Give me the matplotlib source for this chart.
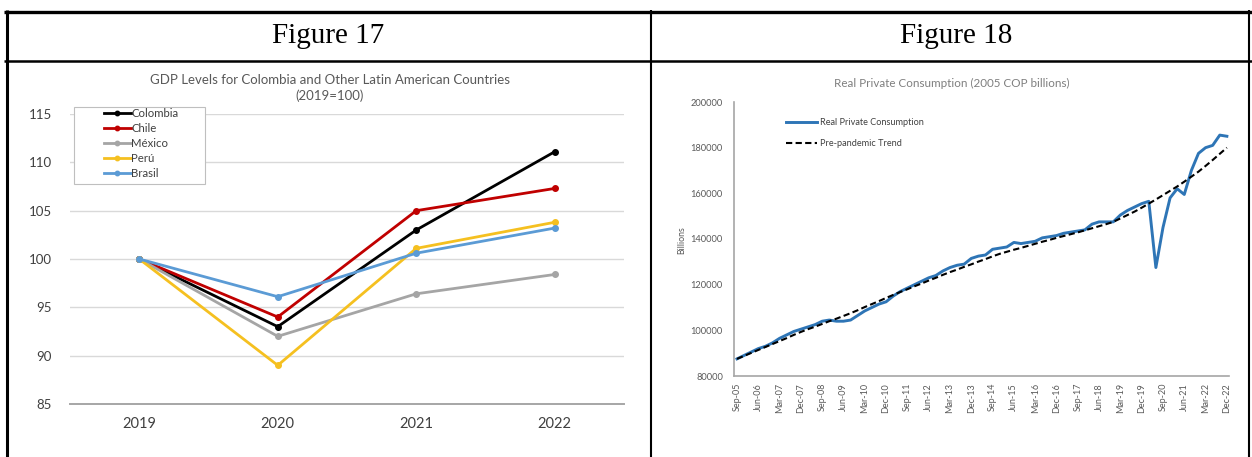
import matplotlib
matplotlib.use("Agg")
import matplotlib.pyplot as plt
from matplotlib.lines import Line2D
from matplotlib.patches import Rectangle
import numpy as np

# ---------------- data ----------------
years = ["2019", "2020", "2021", "2022"]
colombia = [100, 93.0, 103.0, 111.1]
chile = [100, 94.0, 105.0, 107.3]
mexico = [100, 92.0, 96.4, 98.4]
peru = [100, 89.0, 101.1, 103.8]
brasil = [100, 96.1, 100.6, 103.2]

quarter_labels = ["Sep-05", "Jun-06", "Mar-07", "Dec-07", "Sep-08", "Jun-09",
                  "Mar-10", "Dec-10", "Sep-11", "Jun-12", "Mar-13", "Dec-13",
                  "Sep-14", "Jun-15", "Mar-16", "Dec-16", "Sep-17", "Jun-18",
                  "Mar-19", "Dec-19", "Sep-20", "Jun-21", "Mar-22", "Dec-22"]

# quarterly real private consumption, Sep-05 .. Dec-22
consumption = [87500, 89000, 90500, 92000, 93000, 94500, 96500, 98000, 99500,
               100500, 101500, 102500, 104000, 104500, 104000, 104000, 104500,
               106500, 108500, 110000, 111500, 112500, 115000, 117000, 118500,
               120000, 121500, 123000, 124000, 126000, 127500, 128500, 129000,
               131500, 132500, 133000, 135500, 136000, 136500, 138500, 138000,
               138500, 139000, 140500, 141000, 141500, 142500, 143000, 143500,
               144000, 146500, 147500, 147500, 147500, 150500, 152500, 154000,
               155500, 156500, 127500, 145000, 158000, 162000, 159500, 170000,
               177500, 180000, 181000, 185500, 185000]

trend = [87500, 88800, 90100, 91400, 92700, 94000, 95300, 96600, 98000, 99300,
         100500, 101600, 102800, 104000, 105100, 106300, 107500, 108800,
         110200, 111500, 112800, 114200, 115500, 116800, 118000, 119300,
         120500, 121800, 123000, 124300, 125500, 126600, 127800, 128900,
         130100, 131200, 132400, 133500, 134400, 135300, 136100, 137000,
         137900, 138800, 139600, 140500, 141300, 142100, 142900, 143800,
         144700, 145600, 146500, 147500, 149000, 150500, 152000, 153700,
         155500, 157300, 159200, 161100, 163000, 165100, 167300, 169500,
         172000, 174600, 177300, 180000]

W, H = 1252, 457
fig = plt.figure(figsize=(W / 100, H / 100), dpi=100)
fig.patch.set_facecolor("white")


def fx(x):
    return x / W


def fy(y):
    return 1 - y / H


# ---------------- table frame ----------------
def hline(y, x0, x1, lw):
    fig.add_artist(Line2D([fx(x0), fx(x1)], [fy(y), fy(y)], color="black",
                          lw=lw, transform=fig.transFigure, solid_capstyle="butt"))


def vline(x, y0, y1, lw):
    fig.add_artist(Line2D([fx(x), fx(x)], [fy(y0), fy(y1)], color="black",
                          lw=lw, transform=fig.transFigure, solid_capstyle="butt"))


hline(12, 4, 1252, 2.4)
hline(61, 4, 1252, 1.8)
vline(6.5, 10, 457, 2.2)
vline(651, 10, 457, 1.5)
vline(1249, 10, 457, 1.5)

fig.text(fx(328), fy(36), "Figure 17", family="Liberation Serif", fontsize=21,
         ha="center", va="center")
fig.text(fx(956), fy(36), "Figure 18", family="Liberation Serif", fontsize=21,
         ha="center", va="center")

sans = ["Lato", "DejaVu Sans"]

# ---------------- Figure 17: GDP levels ----------------
ax1 = fig.add_axes([fx(70), fy(404), fx(624) - fx(70), fy(114) - fy(404)])
x = np.arange(len(years))
series = [("Colombia", colombia, "#000000"),
          ("Chile", chile, "#C00000"),
          ("México", mexico, "#A5A5A5"),
          ("Perú", peru, "#F5C020"),
          ("Brasil", brasil, "#5B9BD5")]
for name, vals, col in series:
    ax1.plot(x, vals, color=col, lw=2.0, marker="o", ms=4, label=name)

ax1.set_xlim(-0.5, 3.5)
ax1.set_ylim(85, 115)
ax1.set_yticks([85, 90, 95, 100, 105, 110, 115])
ax1.set_xticks(x)
ax1.set_xticklabels(years)
ax1.grid(axis="y", color="#D9D9D9", lw=1.0)
ax1.set_axisbelow(True)
for s in ["top", "right", "left"]:
    ax1.spines[s].set_visible(False)
ax1.spines["bottom"].set_color("#A6A6A6")
ax1.spines["bottom"].set_linewidth(1.4)
ax1.tick_params(length=0)
ax1.tick_params(axis="y", pad=13, labelsize=9.5, labelcolor="#404040")
ax1.tick_params(axis="x", pad=9, labelsize=10.5, labelcolor="#404040")
for lab in ax1.get_xticklabels() + ax1.get_yticklabels():
    lab.set_family(sans)

fig.text(fx(330), fy(80), "GDP Levels for Colombia and Other Latin American Countries",
         family=sans, fontsize=9.5, color="#595959", ha="center", va="center")
fig.text(fx(330), fy(96), "(2019=100)", family=sans, fontsize=9.5,
         color="#595959", ha="center", va="center")

# legend box drawn separately so the entries can sit inset from its border
box = Rectangle((fx(74), fy(184)), fx(205) - fx(74), fy(107) - fy(184),
                transform=fig.transFigure, facecolor="white",
                edgecolor="#BFBFBF", lw=0.8, zorder=3, clip_on=False)
ax1.add_patch(box)
leg1 = ax1.legend(loc="upper left", bbox_to_anchor=(fx(104), fy(108)),
                  bbox_transform=fig.transFigure, frameon=False,
                  prop={"family": sans, "size": 8.2}, handlelength=2.35,
                  handletextpad=0.05, labelspacing=0.36, borderpad=0,
                  borderaxespad=0, markerscale=0.8)
leg1.set_zorder(6)
for t in leg1.get_texts():
    t.set_color("#404040")

# ---------------- Figure 18: real private consumption ----------------
ax2 = fig.add_axes([fx(734), fy(376), fx(1229) - fx(734), fy(102) - fy(376)])
q = np.arange(len(consumption))
ax2.plot(q, consumption, color="#2E75B6", lw=2.1, label="Real Private Consumption")
ax2.plot(q, trend, color="black", lw=1.5, ls=(0, (3, 1.6)), label="Pre-pandemic Trend")
ax2.set_xlim(-0.42, 69.3)
ax2.set_ylim(80000, 200000)
ax2.set_yticks(np.arange(80000, 200001, 20000))
ax2.set_yticklabels([str(v) for v in range(80000, 200001, 20000)])
ax2.set_xticks(np.arange(0, len(consumption), 3))
ax2.set_xticklabels(quarter_labels, rotation=90)
for s in ["top", "right"]:
    ax2.spines[s].set_visible(False)
for s in ["left", "bottom"]:
    ax2.spines[s].set_color("#A6A6A6")
    ax2.spines[s].set_linewidth(1.2)
ax2.tick_params(length=0)
ax2.tick_params(axis="y", pad=8, labelsize=6.7, labelcolor="#595959")
ax2.tick_params(axis="x", pad=5, labelsize=6.5, labelcolor="#595959")
for lab in ax2.get_xticklabels() + ax2.get_yticklabels():
    lab.set_family(sans)

fig.text(fx(682), fy(240), "Billions", family=sans, fontsize=6.3,
         color="#595959", rotation=90, ha="center", va="center")
fig.text(fx(952), fy(83), "Real Private Consumption (2005 COP billions)",
         family=sans, fontsize=8.4, color="#7F7F7F", ha="center", va="center")

leg2 = ax2.legend(loc="upper left", bbox_to_anchor=(fx(786), fy(118)),
                  bbox_transform=fig.transFigure, frameon=False,
                  prop={"family": sans, "size": 6.6}, handlelength=3.4,
                  handletextpad=0.3, labelspacing=1.3, borderpad=0,
                  borderaxespad=0)
for t in leg2.get_texts():
    t.set_color("#404040")

fig.savefig("out.png", dpi=100, facecolor="white")
